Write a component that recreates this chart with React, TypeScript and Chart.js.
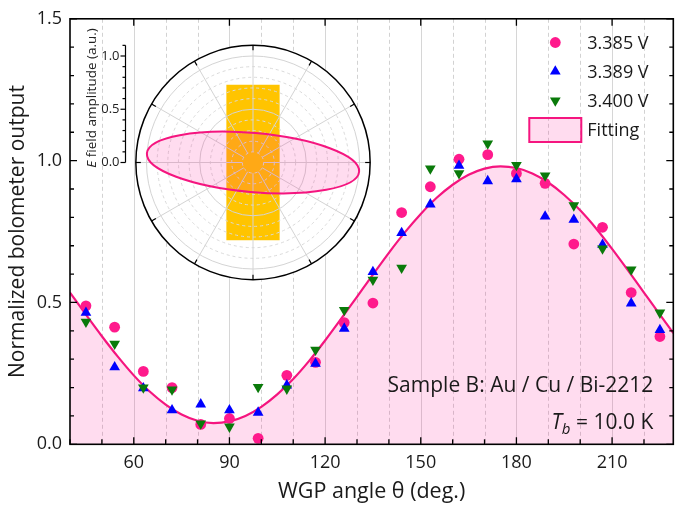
import React, { useEffect, useRef } from 'react';
import { Chart, registerables } from 'chart.js';

Chart.register(...registerables);

// ---- measured data ----
const ANGLES = [45, 54, 63, 72, 81, 90, 99, 108, 117, 126, 135, 144, 153, 162, 171, 180, 189, 198, 207, 216, 225];
const V_3385 = [0.488, 0.413, 0.257, 0.200, 0.070, 0.091, 0.021, 0.243, 0.289, 0.429, 0.498, 0.817, 0.908, 1.005, 1.021, 0.955, 0.920, 0.706, 0.765, 0.535, 0.380];
const V_3389 = [0.464, 0.272, 0.198, 0.120, 0.141, 0.120, 0.112, 0.208, 0.284, 0.408, 0.608, 0.745, 0.846, 0.982, 0.928, 0.935, 0.803, 0.792, 0.704, 0.497, 0.403];
const V_3400 = [0.432, 0.354, 0.200, 0.193, 0.073, 0.062, 0.202, 0.196, 0.333, 0.473, 0.580, 0.622, 0.972, 0.955, 1.060, 0.984, 0.947, 0.842, 0.690, 0.616, 0.464];

// fitted curve
const FIT_ANGLES = [40, 45, 50, 55, 60, 65, 70, 75, 80, 85, 90, 95, 100, 105, 110, 115, 120, 125, 130, 135, 140, 145, 150, 155, 160, 165, 170, 175, 180, 185, 190, 195, 200, 205, 210, 215, 220, 225, 229.2];
const FIT_VALUES = [0.535, 0.457, 0.381, 0.309, 0.243, 0.186, 0.140, 0.105, 0.083, 0.075, 0.081, 0.100, 0.132, 0.176, 0.230, 0.294, 0.366, 0.442, 0.520, 0.598, 0.675, 0.747, 0.812, 0.869, 0.915, 0.950, 0.972, 0.980, 0.974, 0.955, 0.923, 0.879, 0.825, 0.761, 0.689, 0.613, 0.535, 0.457, 0.392];

const SERIES_LABELS = ['3.385 V', '3.389 V', '3.400 V'];
const FIT_LABEL = 'Fitting';

const X_MIN = 40;
const X_MAX = 229.2;
const Y_MIN = 0;
const Y_MAX = 1.5;
const X_MAJOR = 30;
const X_MINOR = 10;
const Y_MAJOR = 0.5;
const Y_MINOR = 0.1;

const SAMPLE_TEXT = 'Sample B: Au / Cu / Bi-2212';
const TEMP_VALUE = '10.0 K';

// polar inset: polarization ellipse of the E field and the sample strip
const ELLIPSE_MAJOR = 1.0;
const ELLIPSE_MINOR = 0.277;
const ELLIPSE_TILT_DEG = -5;
const STRIP_HALF_W = 0.25;
const STRIP_HALF_H = 0.73;
const R_MAX = 1.1;
const RING_VALUES = [0.1, 0.2, 0.3, 0.4, 0.5, 0.6, 0.7, 0.8, 0.9, 1.0];
const RING_MAJOR = [0.5, 1.0];
const SPOKE_STEP_DEG = 30;
const R_TICKS = [0, 0.1, 0.2, 0.3, 0.4, 0.5, 0.6, 0.7, 0.8, 0.9, 1.0, 1.1];
const R_LABELS = [0, 0.5, 1.0];

// ---- styling ----
const FONT = "'Open Sans', 'Noto Sans', sans-serif";
const TEXT = '#1a1a1a';
const PINK = '#FF1A8C';
const PINK_LINE = '#F5157F';
const PINK_FILL = 'rgba(255, 20, 147, 0.15)';
const BLUE = '#0000FF';
const GREEN = '#0A7A0A';
const STRIP = '#FFC400';

const W = 682;
const H = 512;

const isMultiple = (v: number, step: number) => Math.abs(v / step - Math.round(v / step)) < 1e-6;

const mainPlugin = {
  id: 'mainDecor',
  beforeDatasetsDraw(chart: any) {
    const { ctx, chartArea: a, scales } = chart;
    const xs = scales.x;
    ctx.save();
    ctx.lineWidth = 1;
    for (const t of xs.ticks) {
      const px = Math.round(xs.getPixelForValue(t.value)) + 0.5;
      if (px <= a.left + 1 || px >= a.right - 1) continue;
      if (isMultiple(t.value, X_MAJOR)) {
        ctx.setLineDash([]);
        ctx.strokeStyle = '#d6d6d6';
      } else {
        ctx.setLineDash([4, 3]);
        ctx.strokeStyle = '#d2d2d2';
      }
      ctx.beginPath();
      ctx.moveTo(px, a.top);
      ctx.lineTo(px, a.bottom);
      ctx.stroke();
    }
    ctx.restore();
  },
  afterDatasetsDraw(chart: any) {
    const { ctx, chartArea: a, scales } = chart;
    const xs = scales.x;
    const ys = scales.y;
    ctx.save();
    ctx.strokeStyle = '#000';
    ctx.lineWidth = 1.3;
    // ticks pointing inward
    for (const t of xs.ticks) {
      const px = xs.getPixelForValue(t.value);
      const major = isMultiple(t.value, X_MAJOR);
      const len = major ? 7 : 5;
      ctx.beginPath();
      ctx.moveTo(px, a.bottom);
      ctx.lineTo(px, a.bottom - len);
      if (major) {
        ctx.moveTo(px, a.top);
        ctx.lineTo(px, a.top + len);
      }
      ctx.stroke();
    }
    for (const t of ys.ticks) {
      const py = ys.getPixelForValue(t.value);
      const major = isMultiple(t.value, Y_MAJOR);
      const len = major ? 7 : 4;
      ctx.beginPath();
      ctx.moveTo(a.left, py);
      ctx.lineTo(a.left + len, py);
      ctx.moveTo(a.right, py);
      ctx.lineTo(a.right - len, py);
      ctx.stroke();
    }
    ctx.lineWidth = 1.6;
    ctx.strokeRect(a.left, a.top, a.right - a.left, a.bottom - a.top);
    ctx.restore();
  },
  afterDraw(chart: any) {
    const { ctx, chartArea: a } = chart;
    const ds = chart.data.datasets;
    ctx.save();
    ctx.font = `18px ${FONT}`;
    ctx.textBaseline = 'middle';
    ctx.textAlign = 'left';
    // legend
    const mx = a.right - 118;
    const tx = a.right - 86;
    const rows = [42.5, 71.5, 100.5];
    [1, 2, 3].forEach((di, i) => {
      const d = ds[di];
      const y = rows[i];
      ctx.fillStyle = d.backgroundColor;
      ctx.beginPath();
      const r = d.pointRadius;
      if (d.pointStyle === 'circle') {
        ctx.arc(mx, y, r, 0, Math.PI * 2);
      } else {
        const dir = d.rotation === 180 ? 1 : -1;
        ctx.moveTo(mx, y + dir * r);
        ctx.lineTo(mx + r * 0.866, y - dir * r * 0.5);
        ctx.lineTo(mx - r * 0.866, y - dir * r * 0.5);
        ctx.closePath();
      }
      ctx.fill();
      ctx.fillStyle = TEXT;
      ctx.fillText(d.label, tx, y + 1);
    });
    const fit = ds[0];
    ctx.fillStyle = fit.backgroundColor;
    ctx.fillRect(mx - 26, 118, 52, 24);
    ctx.strokeStyle = fit.borderColor;
    ctx.lineWidth = 2;
    ctx.strokeRect(mx - 26, 118, 52, 24);
    ctx.fillStyle = TEXT;
    ctx.fillText(fit.label, tx, 131);

    // sample annotation
    ctx.font = `21px ${FONT}`;
    ctx.textAlign = 'right';
    const rx = a.right - 20;
    ctx.fillText(SAMPLE_TEXT, rx, 386);
    const rest = ` = ${TEMP_VALUE}`;
    const restW = ctx.measureText(rest).width;
    ctx.fillText(rest, rx, 423);
    ctx.font = `italic 15px ${FONT}`;
    const bW = ctx.measureText('b').width;
    ctx.fillText('b', rx - restW, 430);
    ctx.font = `italic 21px ${FONT}`;
    ctx.fillText('T', rx - restW - bW, 423);
    ctx.restore();
  },
};

const insetPlugin = {
  id: 'polarInset',
  afterDraw(chart: any) {
    const { ctx, scales } = chart;
    const xs = scales.x;
    const ys = scales.y;
    const cx = xs.getPixelForValue(0);
    const cy = ys.getPixelForValue(0);
    const len = (r: number) => xs.getPixelForValue(r) - cx;
    const rOuter = len(R_MAX);
    ctx.save();

    // disk
    ctx.beginPath();
    ctx.arc(cx, cy, rOuter, 0, Math.PI * 2);
    ctx.fillStyle = '#fff';
    ctx.fill();

    // sample strip
    const l = xs.getPixelForValue(-STRIP_HALF_W);
    const r = xs.getPixelForValue(STRIP_HALF_W);
    const t = ys.getPixelForValue(STRIP_HALF_H);
    const b = ys.getPixelForValue(-STRIP_HALF_H);
    ctx.fillStyle = STRIP;
    ctx.fillRect(l, t, r - l, b - t);

    // rings
    ctx.lineWidth = 1;
    for (const rv of RING_VALUES) {
      const major = RING_MAJOR.some((m) => Math.abs(m - rv) < 1e-6);
      ctx.setLineDash(major ? [] : [3, 3]);
      ctx.strokeStyle = major ? '#d4d4d4' : '#dadada';
      ctx.beginPath();
      ctx.arc(cx, cy, len(rv), 0, Math.PI * 2);
      ctx.stroke();
    }
    // spokes
    ctx.setLineDash([]);
    ctx.strokeStyle = '#d4d4d4';
    for (let d = 0; d < 360; d += SPOKE_STEP_DEG) {
      const ang = (d * Math.PI) / 180;
      ctx.beginPath();
      ctx.moveTo(cx + len(0.1) * Math.cos(ang), cy - len(0.1) * Math.sin(ang));
      ctx.lineTo(cx + rOuter * Math.cos(ang), cy - rOuter * Math.sin(ang));
      ctx.stroke();
    }

    // polarization ellipse
    const rot = (-ELLIPSE_TILT_DEG * Math.PI) / 180;
    ctx.beginPath();
    ctx.ellipse(cx, cy, len(ELLIPSE_MAJOR), cy - ys.getPixelForValue(ELLIPSE_MINOR), rot, 0, Math.PI * 2);
    ctx.fillStyle = PINK_FILL;
    ctx.fill();
    ctx.strokeStyle = PINK_LINE;
    ctx.lineWidth = 2;
    ctx.stroke();

    // outer circle with ticks
    ctx.beginPath();
    ctx.arc(cx, cy, rOuter, 0, Math.PI * 2);
    ctx.strokeStyle = '#000';
    ctx.lineWidth = 1.5;
    ctx.stroke();
    ctx.lineWidth = 1.2;
    for (let d = 0; d < 360; d += SPOKE_STEP_DEG) {
      const ang = (d * Math.PI) / 180;
      ctx.beginPath();
      ctx.moveTo(cx + rOuter * Math.cos(ang), cy - rOuter * Math.sin(ang));
      ctx.lineTo(cx + (rOuter - 5) * Math.cos(ang), cy - (rOuter - 5) * Math.sin(ang));
      ctx.stroke();
    }

    // radial amplitude axis on the left
    const ax = Math.round(cx - rOuter - 11) + 0.5;
    ctx.strokeStyle = '#000';
    ctx.lineWidth = 1.2;
    ctx.beginPath();
    ctx.moveTo(ax, cy);
    ctx.lineTo(ax, cy - len(R_MAX));
    ctx.stroke();
    for (const v of R_TICKS) {
      const major = R_LABELS.some((m) => Math.abs(m - v) < 1e-6);
      const py = ys.getPixelForValue(v);
      ctx.beginPath();
      ctx.moveTo(ax, py);
      ctx.lineTo(ax - (major ? 5 : 3), py);
      ctx.stroke();
    }
    ctx.fillStyle = '#222';
    ctx.font = `13px ${FONT}`;
    ctx.textAlign = 'right';
    ctx.textBaseline = 'middle';
    for (const v of R_LABELS) {
      ctx.fillText(v.toFixed(1), ax - 6, ys.getPixelForValue(v));
    }
    // axis title
    ctx.save();
    ctx.translate(ax - 33, cy - len(R_MAX) / 2 - 6);
    ctx.rotate(-Math.PI / 2);
    ctx.textAlign = 'left';
    ctx.font = `13.5px ${FONT}`;
    const rest = ' field amplitude (a.u.)';
    const restW = ctx.measureText(rest).width;
    ctx.font = `italic 13.5px ${FONT}`;
    const eW = ctx.measureText('E').width;
    const start = -(restW + eW) / 2;
    ctx.fillText('E', start, 0);
    ctx.font = `13.5px ${FONT}`;
    ctx.fillText(rest, start + eW, 0);
    ctx.restore();

    ctx.restore();
  },
};

// inset geometry: centre position and size on the page, pixels per amplitude unit
const INSET_LEFT = 74;
const INSET_TOP = 26;
const INSET_W = 300;
const INSET_H = 262;
const INSET_CX = 179;
const INSET_CY = 136.5;
const INSET_UNIT = 106.5;

export default function App() {
  const mainRef = useRef<HTMLCanvasElement>(null);
  const insetRef = useRef<HTMLCanvasElement>(null);

  useEffect(() => {
    const fitData = FIT_ANGLES.map((x, i) => ({ x, y: FIT_VALUES[i] }));
    const mk = (vals: number[]) => ANGLES.map((x, i) => ({ x, y: vals[i] }));

    const main = new Chart(mainRef.current!, {
      type: 'scatter',
      data: {
        datasets: [
          {
            type: 'line',
            label: FIT_LABEL,
            data: fitData,
            borderColor: PINK_LINE,
            backgroundColor: PINK_FILL,
            borderWidth: 2.2,
            pointRadius: 0,
            fill: 'origin',
            cubicInterpolationMode: 'monotone',
            order: 4,
          } as any,
          {
            label: SERIES_LABELS[0],
            data: mk(V_3385),
            pointStyle: 'circle',
            pointRadius: 5.4,
            backgroundColor: PINK,
            borderWidth: 0,
            order: 3,
          } as any,
          {
            label: SERIES_LABELS[1],
            data: mk(V_3389),
            pointStyle: 'triangle',
            pointRadius: 6.2,
            backgroundColor: BLUE,
            borderWidth: 0,
            order: 2,
          } as any,
          {
            label: SERIES_LABELS[2],
            data: mk(V_3400),
            pointStyle: 'triangle',
            rotation: 180,
            pointRotation: 180,
            pointRadius: 6.2,
            backgroundColor: GREEN,
            borderWidth: 0,
            order: 1,
          } as any,
        ],
      },
      options: {
        responsive: false,
        animation: false,
        events: [],
        layout: { padding: { top: 15.7, right: 8.7, left: 0, bottom: 0 } },
        plugins: { legend: { display: false }, tooltip: { enabled: false } },
        scales: {
          x: {
            type: 'linear',
            min: X_MIN,
            max: X_MAX,
            afterFit: (s: any) => {
              s.height = H - 444.3;
            },
            grid: { display: false, drawTicks: false },
            border: { display: false },
            ticks: {
              stepSize: X_MINOR,
              autoSkip: false,
              includeBounds: false,
              maxRotation: 0,
              padding: 8,
              color: TEXT,
              font: { family: FONT, size: 18 },
              callback: (v: any) => (isMultiple(Number(v), X_MAJOR) ? String(v) : ''),
            },
            title: {
              display: true,
              text: 'WGP angle θ (deg.)',
              color: TEXT,
              font: { family: FONT, size: 21.5 },
              padding: { top: 0, bottom: 7 },
            },
          },
          y: {
            type: 'linear',
            min: Y_MIN,
            max: Y_MAX,
            afterFit: (s: any) => {
              s.width = 70;
            },
            grid: { display: false, drawTicks: false },
            border: { display: false },
            ticks: {
              stepSize: Y_MINOR,
              autoSkip: false,
              padding: 8,
              color: TEXT,
              font: { family: FONT, size: 18 },
              callback: (v: any) => (isMultiple(Number(v), Y_MAJOR) ? Number(v).toFixed(1) : ''),
            },
            title: {
              display: true,
              text: 'Normalized bolometer output',
              color: TEXT,
              font: { family: FONT, size: 21 },
              padding: { top: 5, bottom: 0 },
            },
          },
        },
      },
      plugins: [mainPlugin],
    });

    const inset = new Chart(insetRef.current!, {
      type: 'scatter',
      data: { datasets: [] },
      options: {
        responsive: false,
        animation: false,
        events: [],
        layout: { padding: 0 },
        plugins: { legend: { display: false }, tooltip: { enabled: false } },
        scales: {
          x: { type: 'linear', display: false, min: -INSET_CX / INSET_UNIT, max: (INSET_W - INSET_CX) / INSET_UNIT },
          y: { type: 'linear', display: false, min: -(INSET_H - INSET_CY) / INSET_UNIT, max: INSET_CY / INSET_UNIT },
        },
      },
      plugins: [insetPlugin],
    });

    return () => {
      main.destroy();
      inset.destroy();
    };
  }, []);

  return (
    <div style={{ position: 'fixed', left: 0, top: 0, width: W, height: H, background: '#fff' }}>
      <canvas ref={mainRef} width={W} height={H} style={{ position: 'absolute', left: 0, top: 0, width: W, height: H }} />
      <canvas
        ref={insetRef}
        width={INSET_W}
        height={INSET_H}
        style={{ position: 'absolute', left: INSET_LEFT, top: INSET_TOP, width: INSET_W, height: INSET_H }}
      />
    </div>
  );
}
